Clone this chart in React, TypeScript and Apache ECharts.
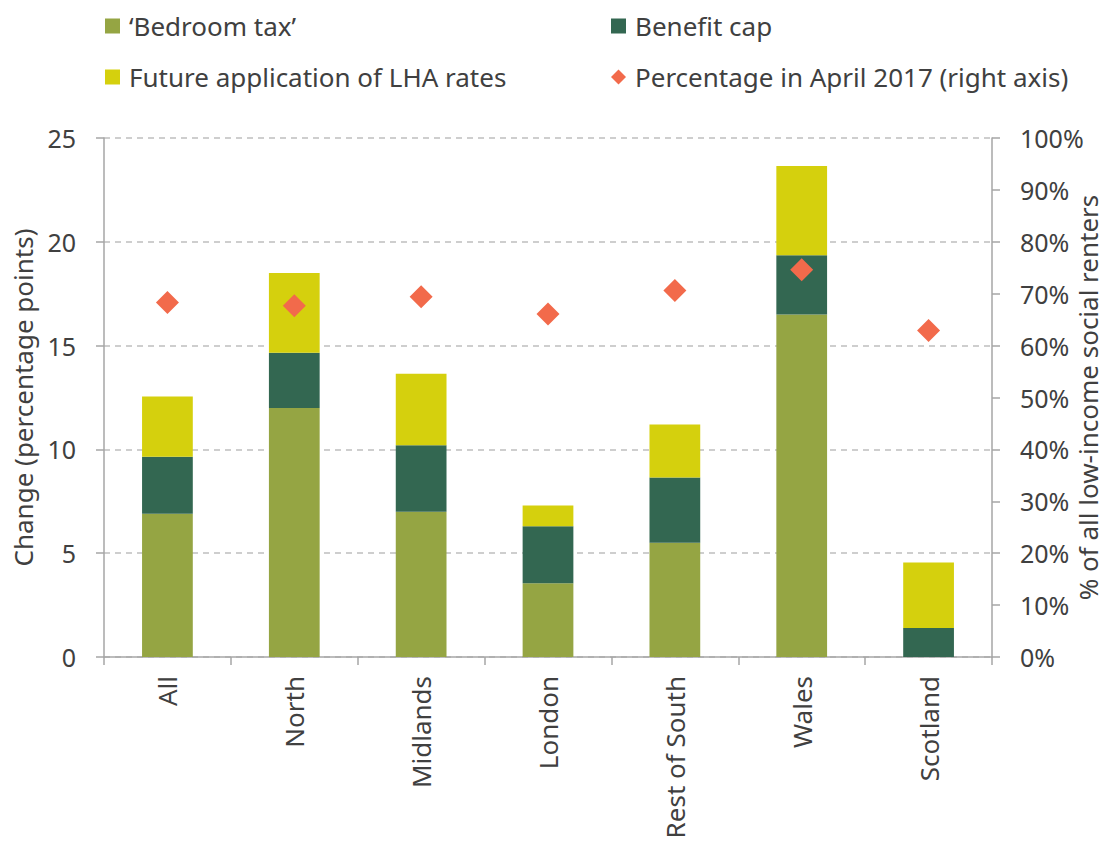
import React, { useEffect, useRef } from "react";
import * as echarts from "echarts";

const categories = ["All", "North", "Midlands", "London", "Rest of South", "Wales", "Scotland"];
const bedroomTax = [6.9, 12.0, 7.0, 3.55, 5.5, 16.5, 0];
const benefitCap = [2.75, 2.65, 3.2, 2.75, 3.15, 2.85, 1.4];
const lhaRates = [2.9, 3.85, 3.45, 1.0, 2.55, 4.3, 3.15];
const pctApril2017 = [68.3, 67.7, 69.4, 66.1, 70.6, 74.6, 62.9];

const FONT = "'Noto Sans', 'Open Sans', sans-serif";
const TEXT = "#404040";
const AXIS = "#a6a6a6";

export default function App() {
  const ref = useRef<HTMLDivElement>(null);
  useEffect(() => {
    if (!ref.current) return;
    const chart = echarts.init(ref.current, null, { renderer: "svg" });
    const legendText = {
      color: TEXT,
      fontSize: 26,
      fontFamily: FONT,
      lineHeight: 26,
      padding: [0, 0, 0, 4],
    };
    chart.setOption({
      animation: false,
      textStyle: { fontFamily: FONT },
      legend: [
        {
          left: 105,
          top: 13,
          padding: 0,
          orient: "vertical",
          itemWidth: 15,
          itemHeight: 15,
          itemGap: 25,
          textStyle: legendText,
          data: [
            { name: "\u2018Bedroom tax\u2019", icon: "rect" },
            { name: "Future application of LHA rates", icon: "rect" },
          ],
        },
        {
          left: 611,
          top: 13,
          padding: 0,
          orient: "vertical",
          itemWidth: 15,
          itemHeight: 15,
          itemGap: 25,
          textStyle: legendText,
          data: [
            { name: "Benefit cap", icon: "rect" },
            { name: "Percentage in April 2017 (right axis)", icon: "diamond" },
          ],
        },
      ],
      grid: { left: 104, right: 115, top: 138, bottom: 184, outerBoundsMode: "none", containLabel: false },
      xAxis: {
        type: "category",
        data: categories,
        axisLine: { lineStyle: { color: AXIS, width: 1.5 } },
        axisTick: { show: true, length: 8, lineStyle: { color: AXIS, width: 1.5 } },
        axisLabel: { rotate: 90, color: TEXT, fontSize: 26, fontFamily: FONT, margin: 19 },
      },
      yAxis: [
        {
          type: "value",
          min: 0,
          max: 25,
          interval: 5,
          name: "Change (percentage points)",
          nameLocation: "middle",
          nameGap: 62,
          nameTextStyle: { color: TEXT, fontSize: 26, fontFamily: FONT },
          axisLine: { show: true, lineStyle: { color: AXIS, width: 1.5 } },
          axisTick: { show: true, length: 8, lineStyle: { color: AXIS, width: 1.5 } },
          axisLabel: { color: TEXT, fontSize: 25, fontFamily: FONT, margin: 28 },
          splitLine: { show: true, lineStyle: { color: "#bfbfbf", type: [6, 5], width: 1.5 } },
        },
        {
          type: "value",
          min: 0,
          max: 100,
          interval: 10,
          position: "right",
          name: "% of all low-income social renters",
          nameLocation: "middle",
          nameGap: 83,
          nameMoveOverlap: false,
          nameTextStyle: { color: TEXT, fontSize: 26, fontFamily: FONT, lineHeight: 26 },
          axisLine: { show: true, lineStyle: { color: AXIS, width: 1.5 } },
          axisTick: { show: true, length: 8, lineStyle: { color: AXIS, width: 1.5 } },
          axisLabel: { color: TEXT, fontSize: 25, fontFamily: FONT, margin: 28, formatter: "{value}%" },
          splitLine: { show: false },
        },
      ],
      series: [
        {
          name: "\u2018Bedroom tax\u2019",
          type: "bar",
          stack: "total",
          data: bedroomTax,
          barWidth: "40%",
          itemStyle: { color: "#95A543" },
        },
        {
          name: "Benefit cap",
          type: "bar",
          stack: "total",
          data: benefitCap,
          barWidth: "40%",
          itemStyle: { color: "#336751" },
        },
        {
          name: "Future application of LHA rates",
          type: "bar",
          stack: "total",
          data: lhaRates,
          barWidth: "40%",
          itemStyle: { color: "#D5D00D" },
        },
        {
          name: "Percentage in April 2017 (right axis)",
          type: "scatter",
          yAxisIndex: 1,
          symbol: "diamond",
          symbolSize: 23,
          data: pctApril2017,
          itemStyle: { color: "#F26A4B", opacity: 1 },
          z: 5,
        },
      ],
    });
    return () => chart.dispose();
  }, []);
  return (
    <div
      ref={ref}
      style={{ position: "fixed", left: 0, top: 0, width: 1107, height: 841, background: "#fff" }}
    />
  );
}
